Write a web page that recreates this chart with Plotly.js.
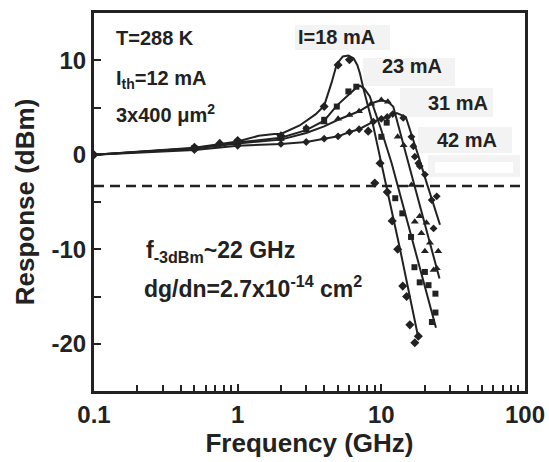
<!DOCTYPE html>
<html>
<head>
<meta charset="utf-8">
<script src="https://cdn.plot.ly/plotly-3.0.1.min.js"></script>
<style>html,body{margin:0;padding:0;background:#fff}#chart{width:549px;height:462px}</style>
</head>
<body>
<div id="chart"></div>
<script>
// Fitted curves (solid lines)
const fit18F = [0.1, 0.2, 0.5, 1, 1.4, 1.8, 2, 2.7, 3.5, 4, 4.5, 4.9, 5.4, 5.9, 6.4, 6.8, 7.1, 7.5, 8.8, 10, 13.5, 18];
const fit18V = [0, 0.3, 0.75, 1.4, 2.0, 2.2, 2.2, 3.1, 4.3, 5.2, 7.6, 9.6, 10.4, 10.5, 10.2, 9.5, 8.6, 7.0, 3.0, -0.9, -10.0, -19.2];
const fit23F = [0.1, 0.2, 0.5, 1, 2, 3, 4, 4.9, 6.0, 6.7, 7.1, 7.6, 8.3, 9.9, 11.8, 16.8, 24];
const fit23V = [0, 0.3, 0.7, 1.3, 1.8, 2.6, 3.6, 5.2, 6.5, 7.1, 7.3, 7.0, 6.2, 2.8, -0.9, -9.6, -18.3];
const fit31F = [0.1, 0.2, 0.5, 1, 2, 3, 4, 5, 7, 8.8, 10, 11.1, 12.1, 15.2, 25.4];
const fit31V = [0, 0.3, 0.65, 1.2, 1.6, 2.3, 3.0, 3.7, 4.6, 5.5, 5.8, 5.6, 5.1, -0.5, -13.1];
const fit42F = [0.1, 0.2, 0.5, 1, 2, 3, 4, 5, 6, 7, 8.8, 10.9, 12.8, 14.8, 16, 18, 20.6, 25.6];
const fit42V = [0, 0.2, 0.5, 0.95, 1.15, 1.35, 1.7, 1.95, 2.4, 2.7, 3.5, 4.05, 4.4, 4.0, 2.5, 0.0, -2.9, -7.4];

// Measured points (markers)
const pts18F = [0.1, 0.5, 0.75, 1, 2, 4, 5, 6, 8.1, 9.0, 9.8, 11.0, 11.9, 13.0, 14.1, 15.0, 15.8, 17.1, 18.1];
const pts18V = [0, 0.8, 1.2, 1.5, 2.0, 5.1, 9.5, 10.05, 2.5, -3.0, -0.9, -3.95, -7.0, -10.0, -13.9, -15.0, -18.0, -19.9, -19.2];
const pts23F = [0.5, 1, 2, 3, 4, 4.9, 5.9, 6.7, 10.0, 10.9, 12.5, 14.0, 16.1, 17.0, 18.5, 20.1, 21.3, 23.8, 23.8, 22.5];
const pts23V = [0.7, 1.3, 1.8, 2.7, 3.7, 5.1, 6.7, 7.2, 1.9, 3.4, -4.6, -6.2, -8.7, -11.9, -13.5, -12.4, -13.8, -14.7, -16.7, -17.7];
const pts31F = [0.5, 1, 2, 3, 4, 5, 6, 7, 8.5, 10, 11.1, 13.0, 14.3, 16.2, 17.1, 18.5, 19.0, 20.6, 20.1, 21.8, 24.9, 24.3, 23.1];
const pts31V = [0.6, 1.2, 1.7, 2.9, 3.4, 3.8, 4.2, 4.6, 5.4, 5.8, 5.6, 1.9, 1.0, -3.2, -7.1, -6.5, -8.3, -7.2, -10.2, -9.3, -10.2, -12.0, -12.2];
const pts42F = [0.5, 1, 2, 3, 4, 5, 6, 7, 8.8, 10, 11, 12, 14.2, 16.2, 16.7, 17.1, 18.1, 18.5, 20.1, 22.4, 24.3, 23.1];
const pts42V = [0.5, 0.95, 1.15, 1.35, 1.7, 1.95, 2.4, 2.7, 3.5, 3.8, 4.0, 4.3, 3.9, 1.9, 0.9, -0.2, -0.9, -1.2, -2.1, -4.8, -4.4, -7.8];

const cutoffF = [0.1, 100];
const cutoffV = [-3.3, -3.3];

const xTickVals = [0.1, 1, 10, 100];
const xTickText = ['0.1', '1', '10', '100'];
const xMinorVals = [0.2,0.3,0.4,0.5,0.6,0.7,0.8,0.9,2,3,4,5,6,7,8,9,20,30,40,50,60,70,80,90];
const yTickVals = [-20, -10, 0, 10];
const yTickText = ['-20', '-10', '0', '10'];

const ink = '#222';
const fam = 'Liberation Sans, Arial, Helvetica, sans-serif';

function line(x, y) {
  return {x, y, mode: 'lines', type: 'scatter', line: {color: ink, width: 2}, hoverinfo: 'skip', showlegend: false};
}
function pts(x, y, sym, size) {
  return {x, y, mode: 'markers', type: 'scatter', marker: {color: ink, symbol: sym, size: size}, hoverinfo: 'skip', showlegend: false};
}

const data = [
  {x: cutoffF, y: cutoffV, mode: 'lines', type: 'scatter', line: {color: ink, width: 2.5, dash: '10px,6px'}, showlegend: false, hoverinfo: 'skip'},
  line(fit18F, fit18V), line(fit23F, fit23V), line(fit31F, fit31V), line(fit42F, fit42V),
  pts(pts18F, pts18V, 'diamond', 7),
  pts(pts23F, pts23V, 'square', 6),
  pts(pts31F, pts31V, 'triangle-up', 7),
  pts(pts42F, pts42V, 'diamond', 6)
];

function box(x0, x1, y0, y1, fill) {
  return {type: 'rect', xref: 'paper', yref: 'paper', x0, x1, y0, y1, fillcolor: fill, line: {width: 0}, layer: 'below'};
}

const annFont = {family: fam, size: 20, color: ink, weight: 'bold'};
const bigFont = {family: fam, size: 23, color: ink, weight: 'bold'};
function ann(text, x, y, xanchor, font) {
  return {text, x, y, xref: 'paper', yref: 'paper', xanchor, yanchor: 'middle', showarrow: false, font: font};
}

const layout = {
  width: 549, height: 462,
  margin: {l: 94, r: 24, t: 13, b: 71},
  paper_bgcolor: '#fff', plot_bgcolor: '#fff',
  font: {family: fam, color: ink},
  xaxis: {
    type: 'log', range: [-1, 2],
    tickmode: 'array', tickvals: xTickVals, ticktext: xTickText,
    ticks: 'inside', ticklen: 7, tickwidth: 2, tickcolor: ink,
    minor: {tickmode: 'array', tickvals: xMinorVals, ticks: 'inside', ticklen: 6, tickwidth: 2, tickcolor: ink, showgrid: false},
    showline: true, linewidth: 3, linecolor: ink, mirror: true,
    showgrid: false, zeroline: false,
    tickfont: {family: fam, size: 24, color: ink, weight: 'bold'},
    title: {text: 'Frequency (GHz)', font: {family: fam, size: 26, color: ink, weight: 'bold'}, standoff: 8}
  },
  yaxis: {
    range: [-25, 15],
    tickmode: 'array', tickvals: yTickVals, ticktext: yTickText,
    ticks: 'inside', ticklen: 7, tickwidth: 2, tickcolor: ink,
    minor: {dtick: 5, ticks: 'inside', ticklen: 7, tickwidth: 2, tickcolor: ink, showgrid: false},
    showline: true, linewidth: 3, linecolor: ink, mirror: true,
    showgrid: false, zeroline: false,
    tickfont: {family: fam, size: 24, color: ink, weight: 'bold'},
    title: {text: 'Response (dBm)', font: {family: fam, size: 26, color: ink, weight: 'bold'}, standoff: 10}
  },
  shapes: [
    box(0.4664, 0.6868, 0.9021, 0.9683, '#f3f3f3'),
    box(0.6241, 0.8376, 0.8069, 0.8810, '#f3f3f3'),
    box(0.7100, 0.9258, 0.7249, 0.8016, '#f3f3f3'),
    box(0.7517, 0.9698, 0.6296, 0.6984, '#f3f3f3'),
    box(0.7750, 0.9884, 0.5661, 0.6243, '#f3f3f3'),
    box(0.7912, 0.9722, 0.5767, 0.6058, '#ffffff')
  ],
  annotations: [
    ann('T=288 K', 0.0464, 0.935, 'left', annFont),
    ann('I<sub>th</sub>=12 mA', 0.0464, 0.823, 'left', annFont),
    ann('3x400 μm<sup>2</sup>', 0.0464, 0.733, 'left', annFont),
    ann('I=18 mA', 0.5615, 0.9365, 'center', annFont),
    ann('23 mA', 0.7367, 0.860, 'center', annFont),
    ann('31 mA', 0.8434, 0.7606, 'center', annFont),
    ann('42 mA', 0.8654, 0.6627, 'center', annFont),
    ann('f<sub>-3dBm</sub>~22 GHz', 0.116, 0.370, 'left', bigFont),
    ann('dg/dn=2.7x10<sup>-14</sup> cm<sup>2</sup>', 0.111, 0.275, 'left', bigFont)
  ]
};

Plotly.newPlot('chart', data, layout, {displayModeBar: false, staticPlot: true});
</script>
</body>
</html>
